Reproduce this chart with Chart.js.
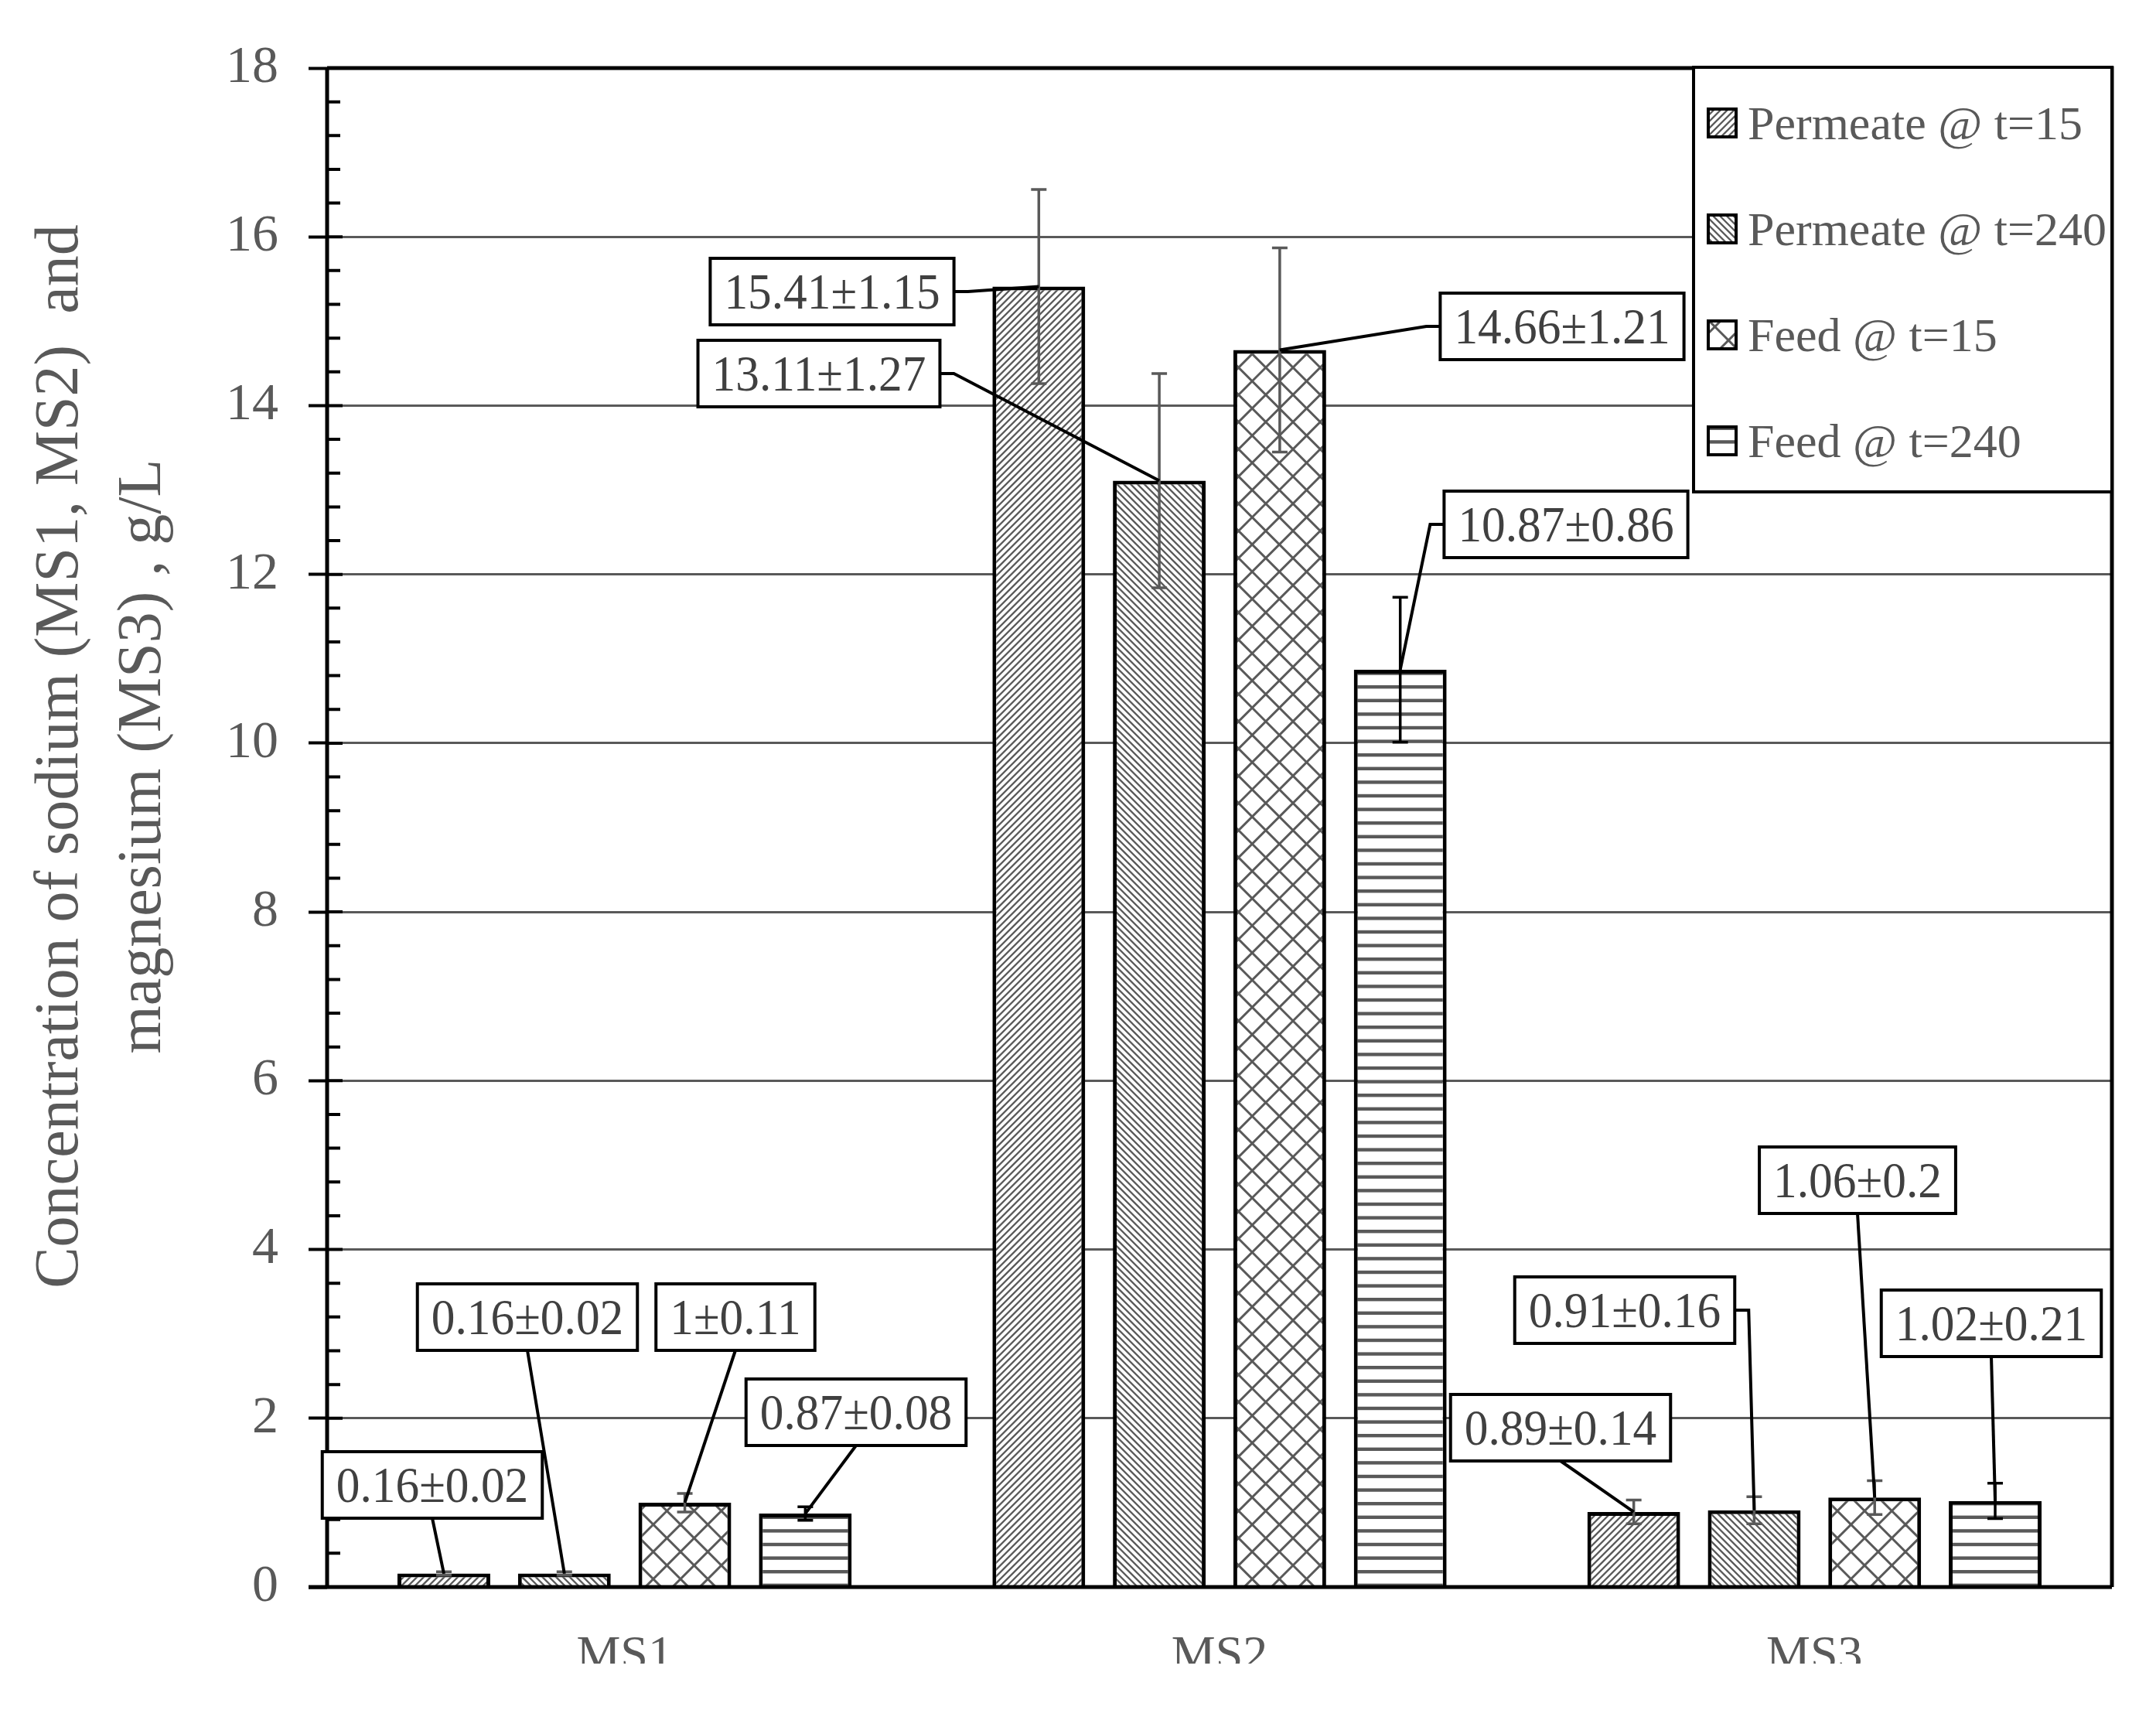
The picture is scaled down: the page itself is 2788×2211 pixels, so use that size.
<!DOCTYPE html>
<html>
<head>
<meta charset="utf-8">
<script src="https://cdn.jsdelivr.net/npm/chart.js@4.4.1/dist/chart.umd.min.js"></script>
<style>
  html, body { margin: 0; padding: 0; background: #fff; }
  canvas { display: block; }
</style>
</head>
<body>
<canvas id="chart" width="2788" height="2151"></canvas>
<script>
// data
const categories = ["MS1", "MS2", "MS3"];
const seriesNames = ["Permeate @ t=15", "Permeate @ t=240", "Feed @ t=15", "Feed @ t=240"];
const permeate15 = [0.16, 15.41, 0.89];
const permeate240 = [0.16, 13.11, 0.91];
const feed15 = [1, 14.66, 1.06];
const feed240 = [0.87, 10.87, 1.02];
const permeate15Err = [0.02, 1.15, 0.14];
const permeate240Err = [0.02, 1.27, 0.16];
const feed15Err = [0.11, 1.21, 0.2];
const feed240Err = [0.08, 0.86, 0.21];
const yTicks = [0, 2, 4, 6, 8, 10, 12, 14, 16, 18];

const seriesValues = [permeate15, permeate240, feed15, feed240];
const seriesErrors = [permeate15Err, permeate240Err, feed15Err, feed240Err];

// label boxes: centre (px) and where the leader leaves the box
const labelPos = [
  [[559, 1920, "b"], [1076, 377, "r"], [2018, 1846, "b"]],
  [[682, 1703, "b"], [1059, 483, "r"], [2101, 1694, "r"]],
  [[951, 1703, "b"], [2020, 422, "l"], [2402, 1526, "b"]],
  [[1107, 1826, "b"], [2025, 678, "l"], [2575, 1711, "b"]],
];

const GRAY = "#595959";
const SERIF = "'Liberation Serif', 'Times New Roman', serif";

// hatch patterns (excel-like)
function makePattern(kind) {
  const T = 176;
  const c = document.createElement("canvas");
  c.width = T; c.height = T;
  const g = c.getContext("2d");
  g.fillStyle = "#fff";
  g.fillRect(0, 0, T, T);
  g.strokeStyle = GRAY;
  g.fillStyle = GRAY;
  g.lineCap = "butt";
  if (kind === "up" || kind === "down" || kind === "diamond") {
    const p = kind === "diamond" ? 35.2 : 8.8;
    g.lineWidth = kind === "diamond" ? 3 : 2.3;
    for (let k = -40; k <= 60; k++) {
      const cc = k * p;
      if (kind === "up" || kind === "diamond") {
        g.beginPath(); g.moveTo(cc + 300, -300); g.lineTo(cc - 300, 300); g.stroke();
      }
      if (kind === "down" || kind === "diamond") {
        g.beginPath(); g.moveTo(cc - 300, -300); g.lineTo(cc + 300, 300); g.stroke();
      }
    }
  } else if (kind === "hlines") {
    for (let k = 0; k < 10; k++) g.fillRect(0, k * 17.6 + 6, T, 4.4);
  }
  return g.createPattern(c, "repeat");
}

const ctx = document.getElementById("chart").getContext("2d");
const fills = [makePattern("up"), makePattern("down"), makePattern("diamond"), makePattern("hlines")];
const errColors = [GRAY, GRAY, GRAY, "#000"];

function fmt(v, e) { return v + "\u00B1" + e; }

const decor = {
  id: "decor",
  afterDatasetsDraw(chart) {
    const c = chart.ctx;
    const y = chart.scales.y;
    const area = chart.chartArea;

    // error bars
    seriesValues.forEach((vals, i) => {
      const meta = chart.getDatasetMeta(i);
      vals.forEach((v, j) => {
        const bar = meta.data[j];
        const e = seriesErrors[i][j];
        const y1 = y.getPixelForValue(v + e);
        const y2 = y.getPixelForValue(v - e);
        c.save();
        c.strokeStyle = errColors[i];
        c.lineWidth = 3.5;
        c.beginPath();
        c.moveTo(bar.x, y1); c.lineTo(bar.x, y2);
        c.moveTo(bar.x - 10, y1); c.lineTo(bar.x + 10, y1);
        c.moveTo(bar.x - 10, y2); c.lineTo(bar.x + 10, y2);
        c.stroke();
        c.restore();
      });
    });

    // axes, frame and ticks
    c.save();
    c.strokeStyle = "#000";
    c.lineWidth = 5;
    c.beginPath();
    c.moveTo(399, area.bottom); c.lineTo(area.right, area.bottom);
    c.moveTo(area.left, area.top); c.lineTo(area.left, area.bottom);
    c.moveTo(area.left, area.top); c.lineTo(area.right, area.top);
    c.lineTo(area.right, area.bottom);
    c.stroke();
    c.lineWidth = 4;
    c.beginPath();
    for (let k = 0; k <= 45; k++) {
      const py = y.getPixelForValue(k * 0.4);
      const len = k % 5 === 0 ? 20 : 17;
      c.moveTo(area.left, py); c.lineTo(area.left + len, py);
    }
    c.stroke();
    c.restore();

    // leader lines + label boxes
    c.save();
    c.font = "66px " + SERIF;
    const sx = 0.93;
    seriesValues.forEach((vals, i) => {
      const meta = chart.getDatasetMeta(i);
      vals.forEach((v, j) => {
        const bar = meta.data[j];
        const [cx, cy, side] = labelPos[i][j];
        const txt = fmt(v, seriesErrors[i][j]);
        const tw = c.measureText(txt).width * sx;
        const w = tw + 36, h = 86;
        c.strokeStyle = "#000";
        c.lineWidth = 4;
        c.beginPath();
        if (side === "b") {
          c.moveTo(cx, cy + h / 2);
        } else if (side === "l") {
          c.moveTo(cx - w / 2, cy); c.lineTo(cx - w / 2 - 18, cy);
        } else {
          c.moveTo(cx + w / 2, cy); c.lineTo(cx + w / 2 + 18, cy);
        }
        c.lineTo(bar.x, bar.y);
        c.stroke();
        c.fillStyle = "#fff";
        c.fillRect(cx - w / 2, cy - h / 2, w, h);
        c.strokeRect(cx - w / 2, cy - h / 2, w, h);
        c.fillStyle = "#404040";
        c.textAlign = "center";
        c.textBaseline = "alphabetic";
        c.save();
        c.translate(cx, cy + 22);
        c.scale(sx, 1);
        c.fillText(txt, 0, 0);
        c.restore();
      });
    });
    c.restore();

    // legend
    c.save();
    const lx = 2190, ly = 87, lr = area.right, lb = 636;
    c.fillStyle = "#fff";
    c.fillRect(lx, ly, lr - lx, lb - ly);
    c.strokeStyle = "#000";
    c.lineWidth = 4;
    c.strokeRect(lx, ly, lr - lx, lb - ly);
    c.font = "62px " + SERIF;
    c.textAlign = "left";
    c.textBaseline = "alphabetic";
    seriesNames.forEach((name, i) => {
      const iy = 159 + i * 137;
      c.fillStyle = fills[i];
      c.fillRect(2209, iy - 18, 36, 36);
      c.lineWidth = 4;
      c.strokeRect(2209, iy - 18, 36, 36);
      c.fillStyle = GRAY;
      c.fillText(name, 2260, iy + 21);
    });
    c.restore();

    // y axis title
    c.save();
    c.fillStyle = GRAY;
    c.font = "80px " + SERIF;
    c.textAlign = "center";
    c.textBaseline = "alphabetic";
    c.translate(0, 978);
    c.rotate(-Math.PI / 2);
    c.fillText("Concentration of sodium (MS1, MS2)  and", 0, 100);
    c.fillText("magnesium (MS3) , g/L", 0, 207);
    c.restore();
  }
};

new Chart(ctx, {
  type: "bar",
  data: {
    labels: categories,
    datasets: seriesNames.map((name, i) => ({
      label: name,
      data: seriesValues[i],
      backgroundColor: fills[i],
      borderColor: "#000",
      borderWidth: 5,
      categoryPercentage: 0.81,
      barPercentage: 0.77,
    })),
  },
  options: {
    responsive: false,
    animation: false,
    devicePixelRatio: 1,
    layout: { padding: { top: 88, right: 57, left: 0, bottom: 0 } },
    plugins: { legend: { display: false }, tooltip: { enabled: false } },
    scales: {
      x: {
        grid: { display: false, drawTicks: false },
        border: { display: false },
        ticks: { color: GRAY, font: { family: SERIF, size: 64 }, padding: 52 },
        afterFit: (s) => { s.height = 99; },
      },
      y: {
        min: yTicks[0],
        max: yTicks[yTicks.length - 1],
        afterBuildTicks: (s) => { s.ticks = yTicks.map((v) => ({ value: v })); },
        ticks: { color: GRAY, font: { family: SERIF, size: 68 }, padding: 39 },
        grid: { color: GRAY, lineWidth: 3, tickColor: "#000", tickWidth: 4, tickLength: 24 },
        border: { display: false },
        afterFit: (s) => { s.width = 423; },
      },
    },
  },
  plugins: [decor],
});
</script>
</body>
</html>
